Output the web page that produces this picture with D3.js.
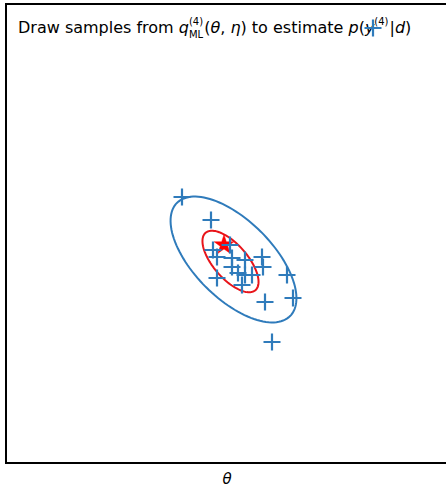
<!DOCTYPE html>
<html><head><meta charset="utf-8">
<script src="https://cdn.jsdelivr.net/npm/d3@7/dist/d3.min.js"></script>
<style>body{margin:0;background:#fff}</style>
</head><body>
<svg id="chart" width="446" height="487"></svg>
<script>
// Sample points (theta, eta)
const sampleTheta = [-0.45, -0.16, 1.46, 0.45, 0.38, 0.66, 0.60, 0.35, 0.36, 0.18, 0.05, -0.10, 0.15, 0.25, -0.10, -0.14, 0.03, 0.05, 0.11, 0.18];
const sampleEta   = [0.365, 0.135, 2.055, -1.085, -0.685, -0.645, -0.415, -0.235, -0.335, -0.265, -0.245, -0.445, -0.515, -0.415, -0.235, -0.165, -0.115, -0.335, -0.395, -0.415];
// True parameter (star)
const trueTheta = [-0.03];
const trueEta = [-0.115];
// Ellipses: center, semi-axes, angle (deg, data space)
const ellCenterTheta = [0.065, 0.035];
const ellCenterEta = [-0.26, -0.28];
const ellSemiMajor = [0.80, 0.38];
const ellSemiMinor = [0.39, 0.17];
const ellAngle = [-45, -49];
const ellColors = ["#2f7bbb", "#e8141a"];
const xLabel = "θ";

const svg = d3.select("#chart");
const mLeft = 6, mRight = 448, mTop = 4, mBottom = 463;
const cx = 227, cy = 233.5;
const x = d3.scaleLinear().domain([(mLeft - cx) / 100, (mRight - cx) / 100]).range([mLeft, mRight]);
const y = d3.scaleLinear().domain([(mBottom - cy) / -100, (mTop - cy) / -100]).range([mBottom, mTop]);

// ellipses
ellCenterTheta.forEach((c, i) => {
  const a = ellSemiMajor[i], b = ellSemiMinor[i], ang = ellAngle[i] * Math.PI / 180;
  const pts = d3.range(0, 361, 3).map(t => {
    const tt = t * Math.PI / 180;
    const u = a * Math.cos(tt), v = b * Math.sin(tt);
    return [x(c + u * Math.cos(ang) - v * Math.sin(ang)), y(ellCenterEta[i] + u * Math.sin(ang) + v * Math.cos(ang))];
  });
  svg.append("path").attr("d", d3.line()(pts) + "Z").attr("fill", "none")
    .attr("stroke", ellColors[i]).attr("stroke-width", 2);
});

// samples
const g = svg.append("g");
sampleTheta.forEach((t, i) => {
  const px = x(t), py = y(sampleEta[i]), s = 8.5;
  g.append("path").attr("d", `M${px - s},${py}H${px + s}M${px},${py - s}V${py + s}`)
    .attr("stroke", "#2f7bbb").attr("stroke-width", 2.2).attr("fill", "none");
});

// star
svg.append("path").attr("d", d3.symbol().type(d3.symbolStar).size(120)())
  .attr("transform", `translate(${x(trueTheta[0])},${y(trueEta[0])})`)
  .attr("fill", "#ff0000").attr("stroke", "#ff0000").attr("stroke-width", 0.5);

// frame
svg.append("rect").attr("x", mLeft).attr("y", mTop).attr("width", mRight - mLeft).attr("height", mBottom - mTop)
  .attr("fill", "none").attr("stroke", "#000").attr("stroke-width", 2);

// title built from pieces
const font = "DejaVu Sans";
const fs = 16, fsSmall = 10;
let cur = 18;
const base = 33;
function piece(txt, opts = {}) {
  const t = svg.append("text").attr("x", cur).attr("y", base + (opts.dy || 0))
    .attr("font-family", font).attr("font-size", opts.size || fs)
    .attr("font-style", opts.italic ? "italic" : "normal").attr("fill", "#000")
    .attr("xml:space", "preserve").style("white-space", "pre").text(txt);
  const w = t.node().getComputedTextLength();
  if (!opts.noAdvance) cur += w;
  return w;
}
function supsub(sup, sub) {
  const start = cur;
  const w1 = piece(sup, { size: fsSmall, dy: -8, noAdvance: true });
  const w2 = sub ? piece(sub, { size: fsSmall, dy: 5, noAdvance: true }) : 0;
  cur = start + Math.max(w1, w2) + 1;
}
piece("Draw samples from ");
piece("q", { italic: true });
supsub("(4)", "ML");
piece("(");
piece("θ", { italic: true });
piece(", ");
piece("η", { italic: true });
piece(") to estimate ");
piece("p", { italic: true });
piece("(");
piece("y", { italic: true });
supsub("(4)");
piece("|");
piece("d", { italic: true });
piece(")");

g.raise();

// x label
svg.append("text").attr("x", (mLeft + mRight) / 2).attr("y", 484).attr("text-anchor", "middle")
  .attr("font-family", font).attr("font-size", 15).attr("font-style", "italic").text(xLabel);
</script>
</body></html>
